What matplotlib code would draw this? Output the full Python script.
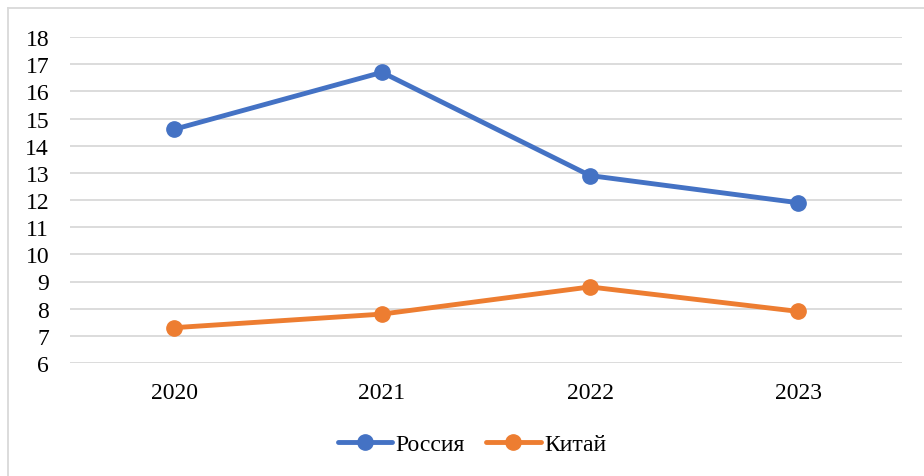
import matplotlib.pyplot as plt
from matplotlib.lines import Line2D

# data
years = ["2020", "2021", "2022", "2023"]
russia = [14.6, 16.7, 12.9, 11.9]
china = [7.3, 7.8, 8.8, 7.9]
y_ticks = list(range(6, 19))

plt.rcParams['font.family'] = ['Liberation Serif', 'DejaVu Serif']

fig = plt.figure(figsize=(9.24, 4.77), dpi=100)
W, H = 924, 477
ax = fig.add_axes([70 / W, 1 - 364 / H, 832 / W, 326 / H])

x = range(len(years))
ax.plot(x, russia, color='#4472C4', lw=3.5, marker='o', ms=11, label='Россия',
        solid_capstyle='round', zorder=3)
ax.plot(x, china, color='#ED7D31', lw=3.5, marker='o', ms=11, label='Китай',
        solid_capstyle='round', zorder=3)

ax.set_xlim(-0.5, len(years) - 0.5)
ax.set_ylim(6, 18)
ax.set_yticks(y_ticks)
ax.set_xticks(list(x))
ax.set_xticklabels(years)
ax.grid(axis='y', color='#D9D9D9', lw=1.3)
ax.set_axisbelow(True)
for s in ax.spines.values():
    s.set_visible(False)
ax.tick_params(length=0, labelsize=17, colors='black')
ax.tick_params(axis='y', pad=15)
ax.tick_params(axis='x', pad=14)

leg = fig.legend(loc='center', bbox_to_anchor=(472 / W, 1 - 445 / H), ncol=2,
                 frameon=False, fontsize=17, handlelength=2.3, handletextpad=0.15,
                 columnspacing=0.9)

# outer chart frame (top and left edges)
fig.add_artist(Line2D([8 / W, 8 / W], [1 - 9 / H, 0], transform=fig.transFigure,
                      color='#D9D9D9', lw=1.3))
fig.add_artist(Line2D([8 / W, 1], [1 - 9 / H, 1 - 9 / H], transform=fig.transFigure,
                      color='#D9D9D9', lw=1.3))

fig.savefig('out.png', dpi=100)
